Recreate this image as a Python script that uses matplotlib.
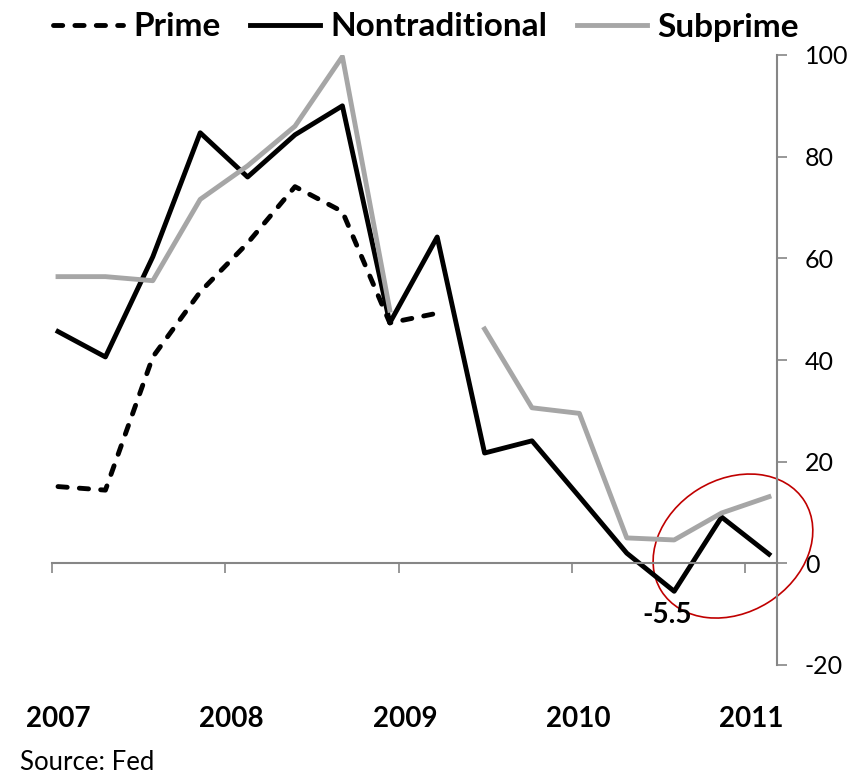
import numpy as np
import matplotlib
matplotlib.use("Agg")
import matplotlib.pyplot as plt
from matplotlib.patches import Ellipse
from matplotlib.transforms import ScaledTranslation

plt.rcParams['font.family'] = ['Lato', 'DejaVu Sans']

# quarterly survey readings, 2007 Q1 .. 2010 Q4
nan = np.nan
prime = [15.1, 14.4, 40.6, 53.4, 63.0, 74.1, 69.2, 47.3, 49.2,
         nan, nan, nan, nan, nan, nan, nan]
nontrad = [45.6, 40.6, 60.3, 84.7, 76.0, 84.3, 90.0, 47.3, 64.2,
           21.7, 24.1, 13.1, 2.0, -5.5, 9.1, 1.8]
subprime = [56.4, 56.4, 55.6, 71.6, 78.2, 86.0, 99.7, 49.8, nan,
            46.1, 30.6, 29.5, 5.0, 4.6, 9.9, 13.1]
years = ["2007", "2008", "2009", "2010", "2011"]
yticks = [-20, 0, 20, 40, 60, 80, 100]

x = np.arange(len(nontrad))
year_pos = -0.13 + 3.657 * np.arange(len(years))

gray_axis = '#868686'
gray_line = '#A6A6A6'

fig = plt.figure(figsize=(8.66, 7.77), dpi=100)
ax = fig.add_axes([51.7 / 866, 1 - 665 / 777, 725 / 866, 610 / 777])

lw = 3.5
ax.plot(x, prime, color='black', lw=lw, dashes=(1.9, 2.5),
        dash_capstyle='round', label='Prime')
ax.plot(x, nontrad, color='black', lw=lw, label='Nontraditional')
ax.plot(x, subprime, color=gray_line, lw=lw, label='Subprime')

ax.set_xlim(-0.133, 15.163)
ax.set_ylim(-20, 100)

# axes styling
for s in ['left', 'top']:
    ax.spines[s].set_visible(False)
ax.spines['bottom'].set_position(('data', 0))
ax.spines['bottom'].set_color(gray_axis)
ax.spines['right'].set_color(gray_axis)
ax.spines['bottom'].set_linewidth(1.5)
ax.spines['right'].set_linewidth(1.5)

ax.yaxis.tick_right()
ax.set_yticks(yticks)
ax.set_yticklabels([str(v) for v in yticks])
ax.tick_params(axis='y', direction='out', length=7.2, width=1.2,
               color=gray_axis, labelsize=18, pad=13)
ax.set_xticks(year_pos)
ax.set_xticklabels([])
ax.tick_params(axis='x', direction='out', length=7.2, width=1.2,
               color=gray_axis)

for pos, yr in zip(year_pos, years):
    ax.annotate(yr, xy=(pos, 1 - 727 / 777), xycoords=('data', 'figure fraction'),
                xytext=(6.5, 0), textcoords='offset pixels',
                ha='center', va='baseline', fontsize=20, fontweight='bold')

# low point label and highlight ellipse
imin = int(np.nanargmin(nontrad))
ax.annotate(f"{nontrad[imin]:g}", xy=(x[imin], nontrad[imin]),
            xytext=(-7, -32), textcoords='offset pixels',
            ha='center', va='baseline', fontsize=20, fontweight='bold')

ell_tr = fig.dpi_scale_trans + ScaledTranslation(14.24, 3.4, ax.transData)
ax.add_patch(Ellipse((0, 0), 1.69, 1.33, angle=32, fill=False,
                     edgecolor='#C00000', lw=1.2, transform=ell_tr,
                     clip_on=False))

leg = ax.legend(loc='center left', bbox_to_anchor=(53 / 866, 1 - 27 / 777),
                bbox_transform=fig.transFigure, ncol=3, frameon=False,
                borderpad=0, borderaxespad=0, handlelength=2.1,
                handletextpad=0.3, columnspacing=0.9,
                prop={'size': 24, 'weight': 'bold'})

fig.text(20 / 866, 2 / 777, "Source: Fed", fontsize=18.5, va='bottom')

fig.savefig("out.png", dpi=100)
